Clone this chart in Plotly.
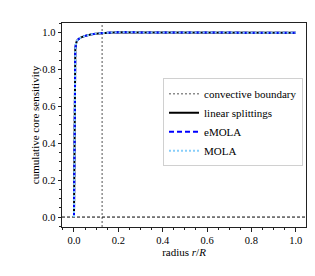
import plotly.graph_objects as go

# data
radius = [0.0, 0.001, 0.002, 0.004, 0.006, 0.009, 0.013, 0.02, 0.03, 0.05, 0.08, 0.12, 0.2, 0.3, 0.5, 0.7, 1.0]
linear_splittings = [0.0, 0.25, 0.6, 0.85, 0.91, 0.94, 0.955, 0.965, 0.974, 0.983, 0.992, 0.998, 1.003, 1.002, 1.001, 1.0, 1.0]
emola = [0.0, 0.25, 0.6, 0.85, 0.91, 0.94, 0.955, 0.965, 0.974, 0.983, 0.992, 0.998, 1.003, 1.002, 1.001, 1.0, 1.0]
mola = [0.0, 0.25, 0.6, 0.85, 0.91, 0.94, 0.955, 0.965, 0.974, 0.983, 0.992, 0.998, 1.003, 1.002, 1.001, 1.0, 1.0]
convective_boundary = 0.127

FONT = "Liberation Serif"

fig = go.Figure()

fig.add_trace(go.Scatter(x=[convective_boundary, convective_boundary], y=[-0.054, 1.053], mode="lines",
                         line=dict(color="#8c8c8c", width=1.5, dash="2px,2px"), name="convective boundary"))
fig.add_trace(go.Scatter(x=[-0.054, 1.046], y=[0, 0], mode="lines",
                         line=dict(color="black", width=1, dash="3px,2px"), showlegend=False))
fig.add_trace(go.Scatter(x=radius, y=linear_splittings, mode="lines",
                         line=dict(color="black", width=2), name="linear splittings"))
fig.add_trace(go.Scatter(x=radius, y=emola, mode="lines",
                         line=dict(color="#0000ff", width=2, dash="5px,3px"), name="eMOLA"))
fig.add_trace(go.Scatter(x=radius, y=mola, mode="lines",
                         line=dict(color="#87cefa", width=2, dash="2px,2px"), name="MOLA"))

axis_common = dict(showgrid=False, zeroline=False, showline=True, linecolor="#222", linewidth=1,
                   mirror=True, ticks="outside", ticklen=3.5, tickwidth=1, tickcolor="#222",
                   tickfont=dict(family=FONT, size=10.5, color="black"), tickformat=".1f",
                   minor=dict(dtick=0.05, ticks="outside", ticklen=2, tickwidth=0.8, tickcolor="#222"))

fig.update_layout(
    width=315, height=276,
    margin=dict(l=54, r=17, t=15, b=57),
    paper_bgcolor="white", plot_bgcolor="white",
    font=dict(family=FONT, size=11, color="black"),
    xaxis=dict(range=[-0.054, 1.046], tick0=0, dtick=0.2,
               title=dict(text="radius <i>r</i>/<i>R</i>", font=dict(family=FONT, size=11), standoff=2),
               **axis_common),
    yaxis=dict(range=[-0.054, 1.053], tick0=0, dtick=0.2,
               title=dict(text="cumulative core sensitivity", font=dict(family=FONT, size=11), standoff=0),
               **axis_common),
    legend=dict(x=0.414, y=0.729, xanchor="left", yanchor="top", bgcolor="white",
                bordercolor="#d0d0d0", borderwidth=1, itemwidth=30,
                font=dict(family=FONT, size=11), tracegroupgap=0),
    showlegend=True,
)

fig.write_html("out.html")
